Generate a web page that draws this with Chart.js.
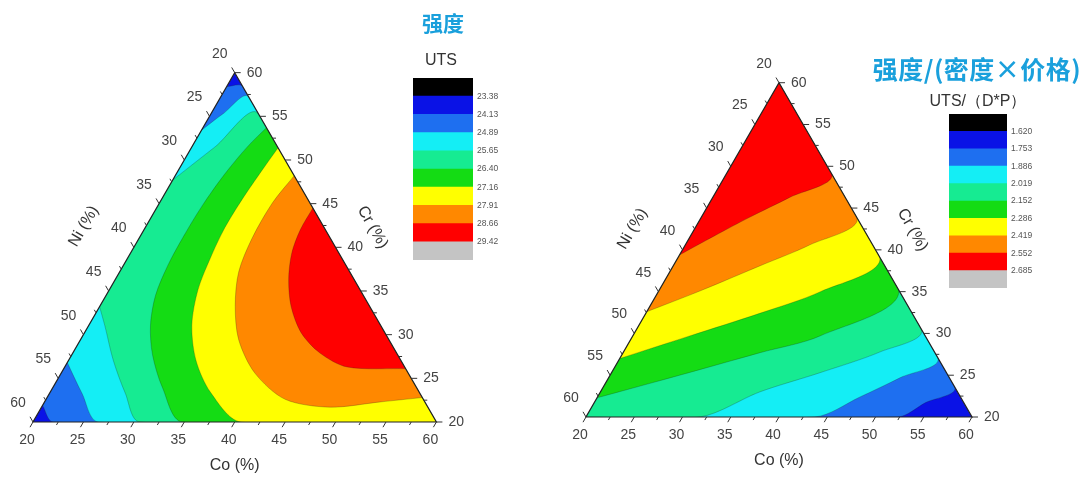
<!DOCTYPE html>
<html><head><meta charset="utf-8">
<script src="https://cdn.jsdelivr.net/npm/chart.js@4.4.1/dist/chart.umd.min.js"></script>
<style>
html,body{margin:0;padding:0;background:#fff;}
body{width:1086px;height:479px;position:relative;overflow:hidden;font-family:"Liberation Sans",Arial,sans-serif;}
canvas{position:absolute;}
.t{position:absolute;white-space:nowrap;transform:translate(-50%,-50%);line-height:1;}
.cn{font-family:"Noto Sans CJK SC","Noto Sans",sans-serif;font-weight:700;color:#1aa0dc;}
.ut{font-family:"Liberation Sans",Arial,sans-serif;color:#333;}
</style></head><body>
<canvas id="L" width="543" height="479" style="left:0;top:0"></canvas>
<canvas id="R" width="543" height="479" style="left:543px;top:0"></canvas>
<canvas id="LB" width="100" height="182" style="left:413px;top:78px"></canvas>
<canvas id="RB" width="98" height="174" style="left:949px;top:114px"></canvas>
<div class="t cn" style="left:443px;top:22px;font-size:21px">强度</div>
<div class="t ut" style="left:441px;top:60px;font-size:16px">UTS</div>
<div class="t cn" style="left:977px;top:68px;font-size:25px;letter-spacing:0.5px">强度/(密度×价格)</div>
<div class="t ut" style="left:978px;top:101px;font-size:16px">UTS/（D*P）</div>
<script>
// ---------- data ----------
// colour levels, top of the colour bar first
const levelColors = ['#000000','#0a12e6','#1e6ff0','#14eef5','#16eb92','#14dc14','#ffff00','#ff8800','#ff0000','#c4c4c4'];
const utsLevels = ['23.38','24.13','24.89','25.65','26.40','27.16','27.91','28.66','29.42'];
const ratioLevels = ['1.620','1.753','1.886','2.019','2.152','2.286','2.419','2.552','2.685'];
const axisTicks = [20,25,30,35,40,45,50,55,60];

// contour boundaries, points given as [Co %, Cr %] (Ni = 100 - Co - Cr)
// left chart: UTS
const utsTopDkBlueBlue = [[20,58.4],[21.6,58.4]];
const utsTopBlueCyan = [[20,53.4],[21.2,55.3],[22.8,57.2]];
const utsTopCyanSpring = [[20,47.7],[22.3,51.5],[24.7,55.3]];
const utsLowDkBlueBlue = [[20,21.9],[22.0,20]];
const utsLowBlueCyan = [[20,26.8],[23.2,23.3],[26.5,20]];
const utsLowCyanSpring = [[20,33.2],[21.7,30.9],[24.4,27.1],[27.5,23.3],[30.6,20]];
const utsSpringGreen = [[26.3,53.7],[25.5,51.5],[24.8,48.3],[24.4,44.8],[24.3,41.4],[24.4,38.0],[24.9,34.5],[26.1,31.1],[28.0,27.7],[30.9,23.9],[34.8,20]];
const utsGreenYellow = [[28.6,51.4],[28.3,48.8],[28.0,45.6],[27.9,42.2],[28.2,38.8],[28.8,35.1],[30.2,31.1],[32.6,27.1],[35.9,23.4],[40.6,20]];
const utsYellowOrange = [[31.8,48.2],[31.2,45.1],[31.2,41.1],[31.8,37.2],[33.4,33.3],[35.7,29.4],[39.2,25.6],[43.7,22.6],[48.6,21.7],[53.3,22.3],[57.2,22.8]];
const utsOrangeRed = [[35.5,44.5],[35.5,42.0],[36.0,39.3],[37.2,36.3],[39.0,33.2],[41.5,30.2],[44.5,27.9],[48.0,26.3],[53.9,26.1]];
// right chart: UTS/(D*P)
const ratioDkBlueBlue = [[52.3,20],[54.3,21.7],[56.4,23.6]];
const ratioBlueCyan = [[43.7,20],[47.2,22.4],[50.2,24.7],[52.9,27.1]];
const ratioCyanSpring = [[31.8,20],[36.5,23.0],[41.6,25.3],[46.6,27.8],[49.5,30.5]];
const ratioSpringGreen = [[20,22.3],[27.2,25.0],[34.2,27.7],[39.4,29.7],[44.8,35.2]];
const ratioGreenYellow = [[20,27.0],[25.9,29.7],[31.8,32.4],[36.8,35.0],[40.9,39.1]];
const ratioYellowOrange = [[20,32.6],[24.3,35.1],[29.0,38.1],[32.9,40.6],[36.2,43.8]];
const ratioOrangeRed = [[20,39.4],[22.5,41.7],[25.0,43.9],[28.0,46.3],[31.0,49.0]];

// ---------- helpers ----------
const SQ3 = Math.sqrt(3) / 2;
const tern = (co, cr) => ({ x: (co - 20) / 40 + (cr - 20) / 80, y: (cr - 20) / 40 * SQ3 });
const toPts = arr => arr.map(p => tern(p[0], p[1]));
const BLv = [20, 20], BRv = [60, 20], TOPv = [20, 60];
const rev = a => a.slice().reverse();

function regionDatasets(regions) {
  return regions.map((r, i) => ({
    data: toPts(r.pts),
    backgroundColor: levelColors[r.c],
    borderColor: i === 0 ? 'rgba(0,0,0,0)' : 'rgba(30,30,30,0.35)',
    borderWidth: i === 0 ? 0 : 0.7,
    fill: 'shape',
    tension: i === 0 ? 0 : 0.3,
    pointRadius: 0,
    pointHoverRadius: 0
  })).reverse();
}

function pix(chart) {
  const { x, y } = chart.scales;
  return (co, cr) => { const t = tern(co, cr); return [x.getPixelForValue(t.x), y.getPixelForValue(t.y)]; };
}

function ternaryPlugin() {
  return {
    id: 'ternary',
    beforeDatasetsDraw(chart) {
      const ctx = chart.ctx, P = pix(chart);
      const a = P(...BLv), b = P(...BRv), c = P(...TOPv);
      ctx.save();
      ctx.beginPath(); ctx.moveTo(a[0], a[1]); ctx.lineTo(b[0], b[1]); ctx.lineTo(c[0], c[1]); ctx.closePath();
      ctx.clip();
    },
    afterDatasetsDraw(chart) {
      const ctx = chart.ctx, P = pix(chart);
      ctx.restore();
      ctx.save();
      const a = P(...BLv), b = P(...BRv), c = P(...TOPv);
      ctx.strokeStyle = '#222'; ctx.lineWidth = 1.2;
      ctx.beginPath(); ctx.moveTo(a[0], a[1]); ctx.lineTo(b[0], b[1]); ctx.lineTo(c[0], c[1]); ctx.closePath(); ctx.stroke();
      // ticks
      const dCo = [-0.5, SQ3], dCr = [1, 0], dNi = [-0.5, -SQ3];
      const vals = [];
      axisTicks.forEach((v, i) => { vals.push([v, true]); if (i < axisTicks.length - 1) vals.push([(v + axisTicks[i + 1]) / 2, false]); });
      ctx.strokeStyle = '#333'; ctx.lineWidth = 1;
      ctx.beginPath();
      vals.forEach(([v, major]) => {
        const L = major ? 6 : 3.5;
        [[P(v, 20), dCo], [P(80 - v, v), dCr], [P(20, 80 - v), dNi]].forEach(([p, d]) => {
          ctx.moveTo(p[0], p[1]); ctx.lineTo(p[0] + d[0] * L, p[1] + d[1] * L);
        });
      });
      ctx.stroke();
      ctx.fillStyle = '#444';
      ctx.font = '14px "Liberation Sans", Arial, sans-serif';
      ctx.textBaseline = 'middle';
      axisTicks.forEach(v => {
        let p = P(v, 20); ctx.textAlign = 'center'; ctx.fillText(String(v), p[0] - 6, p[1] + 18);
        p = P(80 - v, v); ctx.textAlign = 'left'; ctx.fillText(String(v), p[0] + 12, p[1]);
        p = P(20, 80 - v); ctx.textAlign = 'center'; ctx.fillText(String(v), p[0] - 15, p[1] - 19);
      });
      // titles
      ctx.fillStyle = '#333';
      ctx.font = '16px "Liberation Sans", Arial, sans-serif';
      ctx.textAlign = 'center';
      const mB = P(40, 20), mL = P(20, 40), mR = P(40, 40);
      ctx.fillText('Co (%)', mB[0], mB[1] + 44);
      ctx.save(); ctx.translate(mL[0] - 50, mL[1] - 21); ctx.rotate(-Math.PI / 3); ctx.fillText('Ni (%)', 0, 0); ctx.restore();
      ctx.save(); ctx.translate(mR[0] + 37, mR[1] - 20); ctx.rotate(Math.PI / 3); ctx.fillText('Cr (%)', 0, 0); ctx.restore();
      ctx.restore();
    }
  };
}

function ternaryChart(id, regions, xr, yr) {
  return new Chart(document.getElementById(id), {
    type: 'line',
    data: { datasets: regionDatasets(regions) },
    options: {
      responsive: false, devicePixelRatio: 1, animation: false, events: [],
      layout: { padding: 0 },
      plugins: { legend: { display: false }, tooltip: { enabled: false } },
      scales: {
        x: { type: 'linear', min: xr[0], max: xr[1], display: false },
        y: { type: 'linear', min: yr[0], max: yr[1], display: false }
      }
    },
    plugins: [ternaryPlugin()]
  });
}

const regionsL = [
  { c: 1, pts: [BLv, BRv, TOPv] },
  { c: 2, pts: [...utsLowDkBlueBlue, BRv, ...rev(utsTopDkBlueBlue)] },
  { c: 3, pts: [...utsLowBlueCyan, BRv, ...rev(utsTopBlueCyan)] },
  { c: 4, pts: [...utsLowCyanSpring, BRv, ...rev(utsTopCyanSpring)] },
  { c: 5, pts: [...utsSpringGreen, BRv] },
  { c: 6, pts: [...utsGreenYellow, BRv] },
  { c: 7, pts: utsYellowOrange },
  { c: 8, pts: utsOrangeRed }
];
const regionsR = [
  { c: 1, pts: [BLv, BRv, TOPv] },
  { c: 2, pts: [BLv, ...ratioDkBlueBlue, TOPv] },
  { c: 3, pts: [BLv, ...ratioBlueCyan, TOPv] },
  { c: 4, pts: [BLv, ...ratioCyanSpring, TOPv] },
  { c: 5, pts: [...ratioSpringGreen, TOPv] },
  { c: 6, pts: [...ratioGreenYellow, TOPv] },
  { c: 7, pts: [...ratioYellowOrange, TOPv] },
  { c: 8, pts: [...ratioOrangeRed, TOPv] }
];

ternaryChart('L', regionsL, [-0.08181, 1.26425], [-0.1413, 1.04611]);
ternaryChart('R', regionsR, [-0.1114, 1.29534], [-0.16062, 1.08031]);

function colorBar(id, levels) {
  const n = levelColors.length;
  const ds = [];
  for (let i = n - 1; i >= 0; i--) {
    ds.push({ data: [1], backgroundColor: levelColors[i], borderWidth: 0, barPercentage: 1, categoryPercentage: 1 });
  }
  return new Chart(document.getElementById(id), {
    type: 'bar',
    data: { labels: ['c'], datasets: ds },
    options: {
      responsive: false, devicePixelRatio: 1, animation: false, events: [],
      layout: { padding: 0 },
      plugins: { legend: { display: false }, tooltip: { enabled: false } },
      scales: {
        x: { stacked: true, display: false },
        y: {
          stacked: true, min: 0, max: n, position: 'right',
          grid: { display: false, drawTicks: false }, border: { display: false },
          afterBuildTicks(s) { s.ticks = levels.map((_, i) => ({ value: levels.length - i })); },
          afterFit(s) { s.width = 40; s.paddingTop = 0; s.paddingBottom = 0; },
          ticks: {
            padding: 4, color: '#555', font: { size: 8.5, family: '"Liberation Sans", Arial, sans-serif' },
            callback: v => levels[levels.length - v]
          }
        }
      }
    }
  });
}
colorBar('LB', utsLevels);
colorBar('RB', ratioLevels);
</script>
</body></html>
